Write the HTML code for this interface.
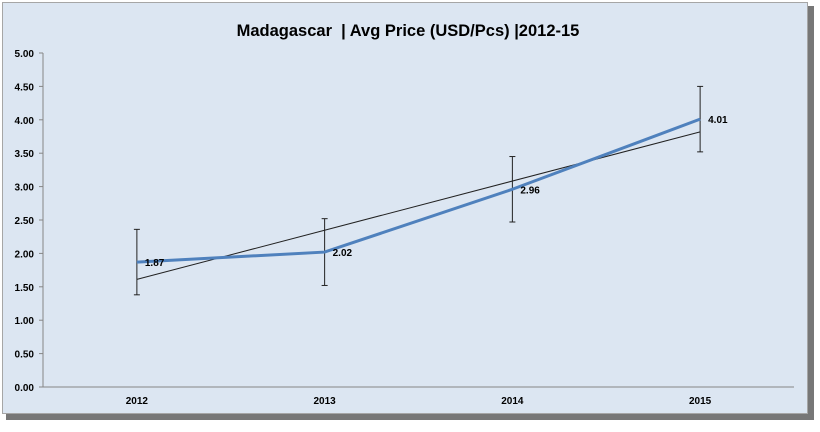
<!DOCTYPE html>
<html><head><meta charset="utf-8"><style>
body{margin:0;background:#fff;width:820px;height:427px;overflow:hidden}
text{font-family:"Liberation Sans",sans-serif}
</style></head><body>
<svg width="820" height="427">
<rect x="6" y="6" width="808" height="414" fill="#555" opacity="0.8"/>
<rect x="2.5" y="2.5" width="805" height="411" fill="#dce6f2" stroke="#a6a6a6"/>
<text x="408" y="36" text-anchor="middle" font-size="16.5" font-weight="bold" fill="#000">Madagascar&#160; | Avg Price (USD/Pcs) |2012-15</text>
<g id="axes"></g><g id="marks"></g>
</svg>
<script>
const categories=["2012","2013","2014","2015"];
const values=[1.87,2.02,2.96,4.01];
const errors=[0.49,0.5,0.49,0.49];
const yTicks=[0,0.5,1,1.5,2,2.5,3,3.5,4,4.5,5];
const L=43,R=794,T=53,B=387,ymax=5;
const band=(R-L)/categories.length;
const xs=i=>L+band*(i+0.5);
const ys=v=>B-(v/ymax)*(B-T);
const NS="http://www.w3.org/2000/svg";
function mk(tag,attrs,parent,txt){const e=document.createElementNS(NS,tag);for(const k in attrs)e.setAttribute(k,attrs[k]);if(txt!==undefined)e.textContent=txt;parent.appendChild(e);return e;}
const ax=document.getElementById('axes'),mg=document.getElementById('marks');
let e=mk('line',{x1:L,y1:T,x2:L,y2:B,stroke:'#868686'},ax);


e=mk('line',{x1:L,y1:B,x2:R,y2:B,stroke:'#868686'},ax);


yTicks.forEach(t=>{const y=ys(t);
mk('line',{x1:L-4,y1:y,x2:L,y2:y,stroke:'#868686'},ax);
e=mk('text',{x:34,y:y+4,'text-anchor':'end','font-size':'10','font-weight':'bold',fill:'#000'},ax,t.toFixed(2));

});
categories.forEach((c,i)=>{e=mk('text',{x:xs(i),y:404,'text-anchor':'middle','font-size':'10','font-weight':'bold',fill:'#000'},ax,c);

});
const n=values.length;let mx=0,my=0;values.forEach((v,i)=>{mx+=i;my+=v});mx/=n;my/=n;
let sxy=0,sxx=0;values.forEach((v,i)=>{sxy+=(i-mx)*(v-my);sxx+=(i-mx)*(i-mx)});
const sl=sxy/sxx,ic=my-sl*mx;
e=mk('line',{x1:xs(0),y1:ys(ic),x2:xs(n-1),y2:ys(ic+sl*(n-1)),stroke:'#222','stroke-width':1},mg);


values.forEach((v,i)=>{const x=xs(i);const g=mk('g',{},mg);


mk('line',{x1:x,y1:ys(v+errors[i]),x2:x,y2:ys(v-errors[i]),stroke:'#222'},g);
mk('line',{x1:x-3,y1:ys(v+errors[i]),x2:x+3,y2:ys(v+errors[i]),stroke:'#222'},g);
mk('line',{x1:x-3,y1:ys(v-errors[i]),x2:x+3,y2:ys(v-errors[i]),stroke:'#222'},g);});
e=mk('polyline',{points:values.map((v,i)=>xs(i)+','+ys(v)).join(' '),fill:'none',stroke:'#4f81bd','stroke-width':3},mg);


values.forEach((v,i)=>{e=mk('text',{x:xs(i)+8,y:ys(v)+4,'font-size':'10','font-weight':'bold',fill:'#000'},mg,v.toFixed(2));

});
</script>
</body></html>
